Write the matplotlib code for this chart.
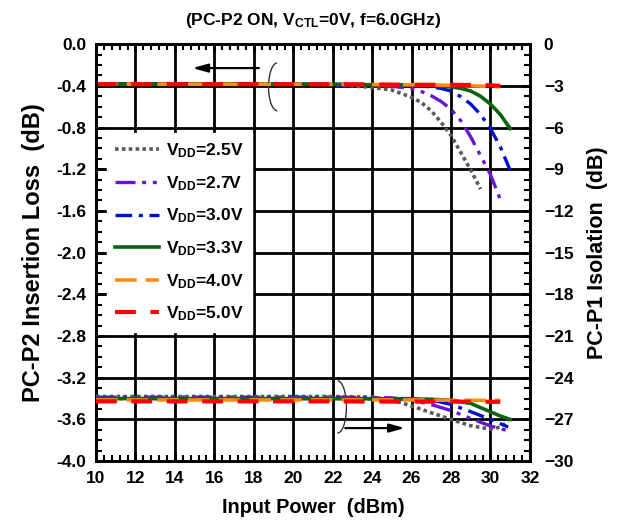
import numpy as np
import matplotlib
matplotlib.use("Agg")
import matplotlib.pyplot as plt
from matplotlib.ticker import AutoMinorLocator, MultipleLocator
from matplotlib.patches import Arc

plt.rcParams['font.family'] = ['Liberation Sans', 'DejaVu Sans']
plt.rcParams['font.weight'] = 'bold'
plt.rcParams['mathtext.fontset'] = 'custom'
plt.rcParams['mathtext.rm'] = 'Liberation Sans:bold'
plt.rcParams['mathtext.bf'] = 'Liberation Sans:bold'
plt.rcParams['mathtext.it'] = 'Liberation Sans:bold'

# insertion loss (left axis, dB)
x_il_25 = [10, 12, 14, 16, 18, 20, 22, 23, 24, 25, 26, 26.5, 27, 27.5, 28, 28.5, 29, 29.5]
il_25 = [-0.38, -0.38, -0.38, -0.38, -0.38, -0.385, -0.39, -0.40, -0.415, -0.44, -0.51,
         -0.56, -0.64, -0.75, -0.875, -1.04, -1.207, -1.39]
x_il_27 = [10, 12, 14, 16, 18, 20, 22, 24, 25, 26, 26.5, 27, 27.5, 28, 28.5, 29, 29.5, 30, 30.5]
il_27 = [-0.38, -0.38, -0.38, -0.38, -0.38, -0.385, -0.39, -0.395, -0.405, -0.425, -0.455,
         -0.495, -0.55, -0.625, -0.735, -0.89, -1.07, -1.25, -1.49]
x_il_30 = [10, 12, 14, 16, 18, 20, 22, 24, 26, 27, 27.5, 28, 28.5, 29, 29.5, 30, 30.5, 31]
il_30 = [-0.38, -0.38, -0.38, -0.38, -0.38, -0.385, -0.385, -0.39, -0.395, -0.41, -0.425,
         -0.45, -0.505, -0.575, -0.675, -0.81, -0.985, -1.21]
x_il_33 = [10, 12, 14, 16, 18, 20, 22, 24, 26, 27, 28, 28.5, 29, 29.5, 30, 30.5, 31]
il_33 = [-0.385, -0.385, -0.385, -0.385, -0.385, -0.385, -0.385, -0.39, -0.39, -0.395, -0.41,
         -0.425, -0.45, -0.50, -0.575, -0.675, -0.81]
x_il_40 = [10, 14, 18, 22, 26, 28, 30, 30.5]
il_40 = [-0.385, -0.385, -0.385, -0.385, -0.39, -0.395, -0.405, -0.41]
x_il_50 = [10, 14, 18, 22, 26, 28, 30, 30.5]
il_50 = [-0.385, -0.385, -0.385, -0.385, -0.39, -0.39, -0.395, -0.40]

# isolation (right axis, dB)
x_iso_25 = [10, 12, 14, 16, 18, 20, 22, 24, 25, 26, 27, 28, 29, 30, 30.5, 30.9]
iso_25 = [-25.35, -25.35, -25.35, -25.35, -25.35, -25.35, -25.35, -25.4, -25.6, -26.03,
          -26.52, -27.0, -27.45, -27.7, -27.55, -27.15]
x_iso_27 = [10, 12, 14, 16, 18, 20, 22, 24, 25, 26, 27, 28, 29, 30, 30.5, 30.8]
iso_27 = [-25.4, -25.4, -25.4, -25.4, -25.4, -25.4, -25.4, -25.42, -25.45, -25.6, -25.93,
          -26.36, -26.93, -27.47, -27.68, -27.77]
x_iso_30 = [10, 12, 14, 16, 18, 20, 22, 24, 26, 27, 28, 29, 30, 30.5, 30.9]
iso_30 = [-25.5, -25.5, -25.5, -25.5, -25.5, -25.5, -25.5, -25.5, -25.5, -25.6, -25.92,
          -26.44, -27.0, -27.3, -27.55]
x_iso_33 = [10, 12, 14, 16, 18, 20, 22, 24, 26, 27, 28, 29, 30, 30.5, 31]
iso_33 = [-25.5, -25.5, -25.5, -25.5, -25.5, -25.5, -25.5, -25.52, -25.53, -25.55, -25.62,
          -25.85, -26.45, -26.75, -27.0]
x_iso_40 = [10, 14, 18, 22, 26, 28, 30, 30.5]
iso_40 = [-25.6, -25.6, -25.6, -25.6, -25.6, -25.62, -25.63, -25.63]
x_iso_50 = [10, 14, 18, 22, 26, 28, 30, 30.5]
iso_50 = [-25.7, -25.7, -25.7, -25.7, -25.72, -25.72, -25.73, -25.73]

labels = [r'$\mathbf{V}_{\mathbf{DD}}$=2.5V', r'$\mathbf{V}_{\mathbf{DD}}$=2.7V',
          r'$\mathbf{V}_{\mathbf{DD}}$=3.0V', r'$\mathbf{V}_{\mathbf{DD}}$=3.3V',
          r'$\mathbf{V}_{\mathbf{DD}}$=4.0V', r'$\mathbf{V}_{\mathbf{DD}}$=5.0V']
colors = ['#5a5a5a', '#6a14d0', '#0010d0', '#0a6414', '#ff8c10', '#ff0000']
styles = [(0, (1, 0.9)), (0, (6, 2, 1.2, 2, 1.2, 2)), (0, (5, 2, 1.2, 2)), '-',
          (0, (6, 2.5)), (0, (5, 3.5))]
widths = [2.6, 2.4, 2.4, 2.6, 2.6, 3.0]

il_x = [x_il_25, x_il_27, x_il_30, x_il_33, x_il_40, x_il_50]
il_y = [il_25, il_27, il_30, il_33, il_40, il_50]
iso_x = [x_iso_25, x_iso_27, x_iso_30, x_iso_33, x_iso_40, x_iso_50]
iso_y = [iso_25, iso_27, iso_30, iso_33, iso_40, iso_50]

fig = plt.figure(figsize=(6.19, 5.27), dpi=100)
ax = fig.add_axes([0.155, 0.125, 0.701, 0.7913])
ax2 = ax.twinx()

ax.set_xlim(10, 32)
ax.set_ylim(-4.0, 0.0)
ax2.set_ylim(-30, 0)

ax.xaxis.set_major_locator(MultipleLocator(2))
ax.xaxis.set_minor_locator(AutoMinorLocator(5))
ax.yaxis.set_major_locator(MultipleLocator(0.4))
ax.yaxis.set_minor_locator(AutoMinorLocator(4))
ax2.yaxis.set_major_locator(MultipleLocator(3))
ax2.yaxis.set_minor_locator(AutoMinorLocator(4))
ax.set_yticklabels([f'{v:.1f}' for v in ax.get_yticks()])

ax.grid(True, which='major', color='black', linewidth=2)
ax.set_axisbelow(True)

for i in range(6):
    ax.plot(il_x[i], il_y[i], color=colors[i], linestyle=styles[i], linewidth=widths[i],
            label=labels[i], zorder=3)
    ax2.plot(iso_x[i], iso_y[i], color=colors[i], linestyle=styles[i], linewidth=widths[i],
             zorder=3)

for a in (ax, ax2):
    for s in a.spines.values():
        s.set_linewidth(2)
ax.tick_params(which='both', direction='in', top=True, right=False, labelsize=12.5, width=2)
ax.tick_params(which='major', length=6, pad=7)
ax.tick_params(which='minor', length=4, width=1.5)
ax2.tick_params(which='both', direction='in', labelsize=12.5, width=2)
ax2.tick_params(which='major', length=6, pad=10)
ax2.tick_params(which='minor', length=4, width=1.5)

ax.set_xlabel('Input Power  (dBm)', fontsize=14.3, fontweight='bold', labelpad=9)
ax.set_ylabel('PC-P2 Insertion Loss  (dB)', fontsize=17, fontweight='bold', labelpad=8)
ax2.set_ylabel('PC-P1 Isolation  (dB)', fontsize=15.5, fontweight='bold', labelpad=10)
ax.set_title(r'(PC-P2 ON, $\mathbf{V}_{\mathbf{CTL}}$=0V, f=6.0GHz)', fontsize=12.5,
             fontweight='bold', pad=14)

leg = ax.legend(loc='upper left', bbox_to_anchor=(0.005, 0.808), fontsize=12.5,
                handlelength=2.5, labelspacing=0.8, borderpad=0.5, handletextpad=0.4,
                frameon=True, fancybox=False, framealpha=1, edgecolor='white')
leg.set_zorder(5)

# annotations: arcs and arrows
ax.add_patch(Arc((19.2, -0.41), 0.9, 0.46, theta1=95, theta2=268, color='#333333', lw=1.0))
ax.annotate('', xy=(14.75, -0.23), xytext=(18.4, -0.23),
            arrowprops=dict(arrowstyle='-|>,head_length=0.9,head_width=0.25', color='black', lw=1.6))
ax.add_patch(Arc((22.25, -3.48), 0.9, 0.5, theta1=-92, theta2=88, color='#333333', lw=1.0))
ax.annotate('', xy=(25.8, -3.683), xytext=(22.5, -3.683),
            arrowprops=dict(arrowstyle='-|>,head_length=0.9,head_width=0.25', color='black', lw=1.6))

fig.savefig('out.png', dpi=100)
